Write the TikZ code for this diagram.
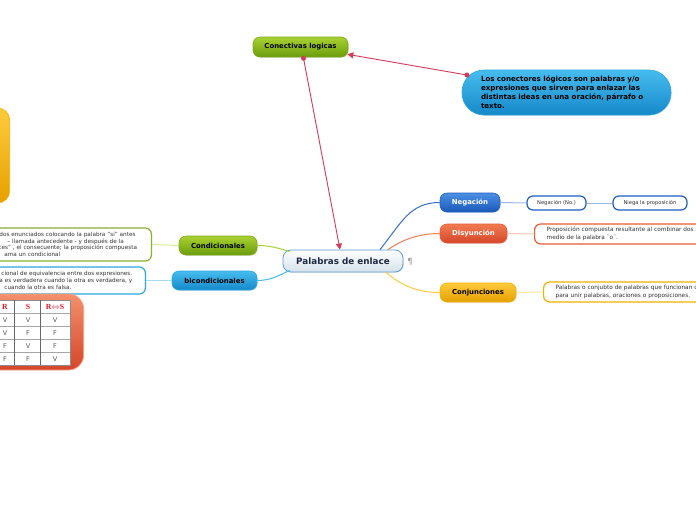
\documentclass[tikz,border=0pt]{standalone}
\usepackage{fontspec}
\setmainfont{DejaVu Sans}
\newfontfamily\tabserif{Liberation Serif}
\usetikzlibrary{calc,arrows.meta,shadows}
\definecolor{grnT}{HTML}{A8D232}
\definecolor{grnB}{HTML}{6C9C0C}
\definecolor{grnL}{HTML}{7AAA1A}
\definecolor{bluT}{HTML}{45BCEE}
\definecolor{bluB}{HTML}{1689CA}
\definecolor{bluL}{HTML}{2AA6E0}
\definecolor{navT}{HTML}{4C90E2}
\definecolor{navB}{HTML}{1A58BA}
\definecolor{navL}{HTML}{1E5EC0}
\definecolor{orgT}{HTML}{F27C52}
\definecolor{orgB}{HTML}{D4462A}
\definecolor{orgL}{HTML}{E85A34}
\definecolor{golT}{HTML}{FDCB3C}
\definecolor{golB}{HTML}{E6A000}
\definecolor{golL}{HTML}{F2B200}
\definecolor{redc}{HTML}{D23C58}
\definecolor{palL}{HTML}{5C9ED4}
\definecolor{palB}{HTML}{D6E2EC}
\definecolor{txtdark}{HTML}{1E2A44}
\definecolor{tabred}{HTML}{E0182A}
\begin{document}
\begin{tikzpicture}[x=1pt,y=-1pt,
  mainbox/.style={rounded corners=7pt, minimum height=19pt, inner sep=0pt,
    font=\bfseries\fontsize{6.9}{8}\selectfont,
    drop shadow={opacity=0.18,shadow xshift=0.8pt,shadow yshift=-0.8pt}},
  leafbox/.style={draw, line width=1.2pt, rounded corners=6pt, fill=white,
    font=\fontsize{5.2}{7}\selectfont, text=black!80},
  longleaf/.style={leafbox, inner ysep=0pt, align=left, font=\fontsize{5.8}{7.5}\selectfont},
  redline/.style={draw=redc, line width=0.9pt},
  reddot/.style={fill=redc, circle, inner sep=0pt, minimum size=5pt},
  tabtxt/.style={font=\fontsize{6.5}{7}\selectfont, text=black!65, inner sep=0pt},
  tabhead/.style={font=\tabserif\bfseries\fontsize{7.8}{8}\selectfont, text=tabred, inner sep=0pt}
]
\useasboundingbox (0,0) rectangle (696,520);
\fill[white] (0,0) rectangle (696,520);
\clip (0,0) rectangle (696,520);

% left yellow sliver
\node[anchor=east, minimum width=80pt, minimum height=95pt, rounded corners=12pt,
  top color=golT, bottom color=golB, draw=golL, line width=0.6pt] (yel) at (10,155.5) {};

% central node
\node[mainbox, rounded corners=8pt, minimum width=120pt, minimum height=22pt,
  top color=white, bottom color=palB, draw=palL, line width=0.8pt, text=txtdark,
  font=\bfseries\fontsize{8.8}{9}\selectfont] (pal) at (343,261) {Palabras de enlace};
\node[text=black!40, font=\fontsize{8.5}{9}\selectfont, inner sep=0pt] (note) at (410,261.5) {¶};

% conectivas
\node[mainbox, minimum width=95pt, minimum height=20pt, top color=grnT, bottom color=grnB,
  draw=grnL, line width=0.6pt, text=black] (con) at (300.5,47) {Conectivas logicas};

% callout
\node[mainbox, rounded corners=22pt, minimum height=45pt, text width=175pt, inner xsep=17pt,
  align=left, top color=bluT, bottom color=bluB, draw=bluL, line width=0.6pt, text=black,
  font=\bfseries\fontsize{7.1}{9}\selectfont] (call) at (566.5,92.5)
  {\hspace*{2pt}Los conectores lógicos son palabras y/o\\\hspace*{2pt}expresiones que sirven para enlazar las\\\hspace*{2pt}distintas ideas en una oración, párrafo o\\\hspace*{2pt}texto.};

% red connectors
\node[reddot] (d1) at ($(con.south)+(3,1)$) {};
\node[reddot] (d2) at (467,75) {};
\draw[redline, -{Triangle[length=6pt,width=6pt]}] (d1.center) -- ($(pal.north)+(-3,0)$);
\draw[redline, -{Triangle[length=6pt,width=6pt]}] (d2.center) -- ($(con.south east)+(-1,-3)$);

% right main nodes
\node[mainbox, minimum width=60pt, top color=navT, bottom color=navB, draw=navL,
  line width=0.6pt, text=white] (neg) at (470,202.5) {Negación};
\node[mainbox, minimum width=67pt, top color=orgT, bottom color=orgB, draw=orgL,
  line width=0.6pt, text=white] (dis) at (473.5,233.5) {Disyunción};
\node[mainbox, minimum width=76pt, top color=golT, bottom color=golB, draw=golL,
  line width=0.6pt, text=black] (conj) at (478,292.5) {Conjunciones};

% left main nodes
\node[mainbox, minimum width=78pt, top color=grnT, bottom color=grnB, draw=grnL,
  line width=0.6pt, text=black] (cond) at (218,245.5) {Condicionales};
\node[mainbox, minimum width=85pt, top color=bluT, bottom color=bluB, draw=bluL,
  line width=0.6pt, text=black] (bic) at (214.5,280.5) {bicondicionales};

% curves from center
\draw[draw=navL!90, line width=1pt] ($(pal.north)+(37,0)$) .. controls (402,222) and (410,202.5) .. (neg.west);
\draw[draw=orgT, line width=1pt] ($(pal.north)+(45,0)$) .. controls (402,240) and (418,233.5) .. (dis.west);
\draw[draw=golT, line width=1pt] ($(pal.south)+(43,0)$) .. controls (402,286) and (418,292.5) .. (conj.west);
\draw[draw=grnT, line width=1pt] ($(pal.north west)+(7,2)$) .. controls (278,248) and (270,245.5) .. (cond.east);
\draw[draw=bluT, line width=1pt] ($(pal.south west)+(7,-2)$) .. controls (278,276) and (270,280.5) .. (bic.east);

% leaves right
\node[leafbox, draw=navL, minimum width=59pt, minimum height=14pt, inner sep=0pt] (negno) at (556.5,203) {Negación (No.)};
\node[leafbox, draw=navL, minimum width=74pt, minimum height=14pt, inner sep=0pt] (niega) at (650,203) {Niega la proposición};
\draw[draw=navL!45, line width=1pt] (neg.east) -- (negno.west);
\draw[draw=navL!45, line width=1pt] (negno.east) -- (niega.west);

\node[longleaf, draw=orgL, anchor=west, text width=230pt, inner xsep=12pt,
  minimum height=20pt] (disleaf) at (534,234)
  {Proposición compuesta resultante al combinar dos simples por\\medio de la palabra ¨o¨.};
\draw[draw=orgT!45, line width=1pt] (dis.east) -- (disleaf.west);

\node[longleaf, draw=golL, anchor=west, text width=230pt, inner xsep=12pt,
  minimum height=20pt] (conjleaf) at (543,292)
  {Palabras o conjubto de palabras que funcionan como enlace\\para unir palabras, oraciones o proposiciones.};
\draw[draw=golT!50, line width=1pt] (conj.east) -- (conjleaf.west);

% leaves left
\node[longleaf, draw=grnL!90, anchor=east, text width=150pt, inner xsep=6pt,
  minimum height=33pt, font=\fontsize{5.7}{6.7}\selectfont] (condleaf) at (152,244.5)
  {\hspace*{4pt}dos enunciados colocando la palabra "si" antes\\
   \hspace*{12pt}– llamada antecedente - y después de la\\
   \hspace*{3pt}ces" , el consecuente; la proposición compuesta\\
   \hspace*{9pt}ama un condicional};
\draw[draw=grnT!50, line width=1pt] (cond.west) -- (condleaf.east);

\node[longleaf, draw=bluL, anchor=east, text width=144pt, inner xsep=6pt,
  minimum height=27pt, font=\fontsize{5.7}{7}\selectfont] (bicleaf) at (146,280.5)
  {\hspace*{6pt}cional de equivalencia entre dos expresiones.\\
   \hspace*{4pt}a es verdadera cuando la otra es verdadera, y\\
   \hspace*{9pt}cuando la otra es falsa.};
\draw[draw=bluT!50, line width=1pt] (bic.west) -- (bicleaf.east);

% table callout
\node[anchor=east, minimum width=120pt, minimum height=76pt, rounded corners=15pt,
  top color=orgT!85, bottom color=orgB, draw=orgT!70, line width=0.8pt] (tabbox) at (84,332) {};
\fill[white] (-5,300) rectangle (70,365);
\draw[black!45, line width=0.5pt] (-5,300) rectangle (70,365);
\foreach \yy in {313.5,326.5,339.5,352.5} \draw[black!35, line width=0.4pt] (-5,\yy) -- (70,\yy);
\draw[black!60, line width=0.5pt] (14,300) -- (14,365);
\draw[black!60, line width=0.5pt] (40,300) -- (40,365);
\node[tabhead] (h1) at (5,307) {R};
\node[tabhead] (h2) at (28,307) {S};
\node[tabhead] (h3) at (55,307) {R$\Leftrightarrow$S};
\node[tabtxt] (a1) at (5,320) {V}; \node[tabtxt] (a2) at (28,320) {V}; \node[tabtxt] (a3) at (55,320) {V};
\node[tabtxt] (b1) at (5,333) {V}; \node[tabtxt] (b2) at (28,333) {F}; \node[tabtxt] (b3) at (55,333) {F};
\node[tabtxt] (c1) at (5,346) {F}; \node[tabtxt] (c2) at (28,346) {V}; \node[tabtxt] (c3) at (55,346) {F};
\node[tabtxt] (e1) at (5,359) {F}; \node[tabtxt] (e2) at (28,359) {F}; \node[tabtxt] (e3) at (55,359) {V};
\end{tikzpicture}
\end{document}
